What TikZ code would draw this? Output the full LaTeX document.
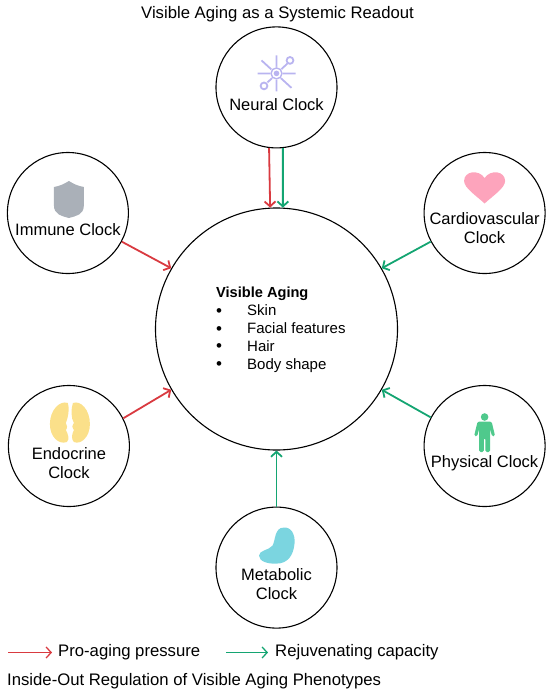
\documentclass[tikz,border=0pt]{standalone}
\usepackage{xcolor}
\usepackage{fontspec}
\setmainfont{Liberation Sans}
\usetikzlibrary{positioning,calc,arrows.meta}
\definecolor{proRed}{HTML}{D93A40}
\definecolor{rejGreen}{HTML}{14A572}
\definecolor{neuronLilac}{HTML}{B9B4F0}
\newcommand{\agebullet}{\makebox[31pt][l]{\raisebox{-0.5pt}{\fontsize{17}{17}\selectfont\textbullet}}}
\begin{document}
\begin{tikzpicture}[x=1pt,y=1pt,
 clock/.style={draw,circle,line width=1.1pt,minimum size=121pt,inner sep=0pt},
 lbl/.style={align=center,inner sep=0pt,font=\fontsize{16.5}{19.5}\selectfont},
 txt/.style={inner sep=0pt,font=\fontsize{16.7}{19}\selectfont},
 pro/.style={-{Straight Barb[length=5pt,width=11pt]},line width=1.8pt,proRed},
 rej/.style={-{Straight Barb[length=5pt,width=11pt]},line width=1.8pt,rejGreen}]
\useasboundingbox (0,0) rectangle (550,-694);
\node[txt] (title) at (277.5,-14) {Visible Aging as a Systemic Readout};
\node[clock,minimum size=242pt] (core) at (276.5,-329) {};
\node[clock,above=59pt of core] (neural) {};
\node[clock,below=56pt of core] (metabolic) {};
\node[clock,left=26pt of core,yshift=116pt] (immune) {};
\node[clock,left=25pt of core,yshift=-117pt] (endocrine) {};
\node[clock,right=25.5pt of core,yshift=116pt] (cardio) {};
\node[clock,right=25.5pt of core,yshift=-117pt] (physical) {};
\node[anchor=north west,align=left,inner sep=0pt,font=\fontsize{15}{17.9}\selectfont] (corelist) at (216,-287)
 {\textbf{\fontsize{14.6}{17.9}\selectfont Visible Aging}\\
 \agebullet Skin\\
 \agebullet Facial features\\
 \agebullet Hair\\
 \agebullet Body shape};
% labels
\node[lbl] (neuraltxt) at ($(neural)+(0,-17)$) {Neural Clock};
\node[lbl] (immunetxt) at ($(immune)+(0,-17)$) {Immune Clock};
\node[lbl] (endocrinetxt) at ($(endocrine)+(0,-17)$) {Endocrine\\Clock};
\node[lbl] (metabolictxt) at ($(metabolic)+(0,-16.5)$) {Metabolic\\Clock};
\node[lbl] (cardiotxt) at ($(cardio)+(0,-15)$) {Cardiovascular\\Clock};
\node[lbl] (physicaltxt) at ($(physical)+(0,-17)$) {Physical Clock};
% icons
\begin{scope}[shift={(neural)},shift={(0,14)},draw=neuronLilac,line width=1.8pt]
\draw (-19,0) -- (19,0) (0,-18) -- (0,18) (-15,13) -- (15,-14.5) (-9,-9) -- (11,10);
\fill[white] (0,0) circle (6.5);
\draw[line width=1.4pt] (0,0) circle (5.5);
\fill[neuronLilac] (0,0) circle (2.8);
\fill[white,draw=neuronLilac] (13.5,13) circle (3.4);
\fill[white,draw=neuronLilac] (-12.5,-12.5) circle (3.4);
\end{scope}
\fill[shift={(immune)},color={rgb,255:red,170;green,176;blue,184}] (1,32) .. controls (6,29) and (10,27) .. (16,26)
 -- (16,8) .. controls (16,-2) and (8,-3) .. (1,-5) .. controls (-6,-3) and (-14,-2) .. (-14,8) -- (-14,26)
 .. controls (-8,27) and (-4,29) .. (1,32) -- cycle;
\begin{scope}[shift={(endocrine)},color={rgb,255:red,251;green,224;blue,138}]
\fill (-1,43) .. controls (-9,46) and (-19,36) .. (-19,22) .. controls (-19,9) and (-10,1) .. (-2,4)
 .. controls (1,7) and (-1,12) .. (-3,16) .. controls (-1,19) and (-2,20) .. (-3,23) .. controls (-1,28) and (1,37) .. (-1,43) -- cycle;
\fill (4,43) .. controls (12,46) and (21,36) .. (21,22) .. controls (21,9) and (12,1) .. (5,4)
 .. controls (2,7) and (3,12) .. (5,16) .. controls (3,19) and (3,20) .. (5,23) .. controls (2,28) and (2,37) .. (4,43) -- cycle;
\end{scope}
\fill[shift={(metabolic)},color={rgb,255:red,123;green,213;blue,224}] (7,40) .. controls (14,41) and (19,34) .. (18,24)
 .. controls (17,12) and (11,4) .. (0,4) .. controls (-8,3.5) and (-17.5,6) .. (-17.5,12)
 .. controls (-17.5,17.5) and (-8,17) .. (-4,22) .. controls (-1,27) and (-2,40) .. (7,40) -- cycle;
\fill[shift={(cardio)},color={rgb,255:red,253;green,164;blue,188}] (0,9.5) .. controls (-8,17) and (-20.5,25) .. (-20.5,32)
 .. controls (-20.5,42) and (-6,44) .. (0,35) .. controls (6,44) and (20.5,42) .. (20.5,32) .. controls (20.5,25) and (8,17) .. (0,9.5) -- cycle;
\begin{scope}[shift={(physical)},color={rgb,255:red,79;green,201;blue,140}]
\fill (0,29) circle (3.8);
\fill[rounded corners=1.5pt] (-7,24.5) -- (7,24.5) -- (10.5,10) -- (7.5,9.5) -- (5.5,17) -- (5.5,-6) -- (0.7,-6) -- (0.7,8) -- (-0.7,8) -- (-0.7,-6) -- (-5.5,-6) -- (-5.5,17) -- (-7.5,9.5) -- (-10.5,10) -- cycle;
\end{scope}
% connectors
\draw[pro] (neural.263) -- (core.93.4);
\draw[rej] (neural.276) -- (core.87);
\draw[pro] (immune.-28) -- (core.150);
\draw[pro] (endocrine.27) -- (core.210);
\draw[rej] (metabolic.90) -- (core.-90);
\draw[rej] (cardio.208) -- (core.30);
\draw[rej] (physical.152) -- (core.-30);
% legend
\node[txt,anchor=west] (protxt) at (58,-652.5) {Pro-aging pressure};
\node[txt,anchor=west] (rejtxt) at (275,-652.5) {Rejuvenating capacity};
\coordinate (profrom) at (8,-652.5);
\coordinate (rejfrom) at (226,-652.5);
\draw[pro,line width=1.3pt] (profrom) -- ($(protxt.west)+(-6,0)$);
\draw[rej,line width=1.3pt] (rejfrom) -- ($(rejtxt.west)+(-7,0)$);
\node[txt,anchor=west] (foot) at (7,-681.5) {Inside-Out Regulation of Visible Aging Phenotypes};
\end{tikzpicture}
\end{document}
